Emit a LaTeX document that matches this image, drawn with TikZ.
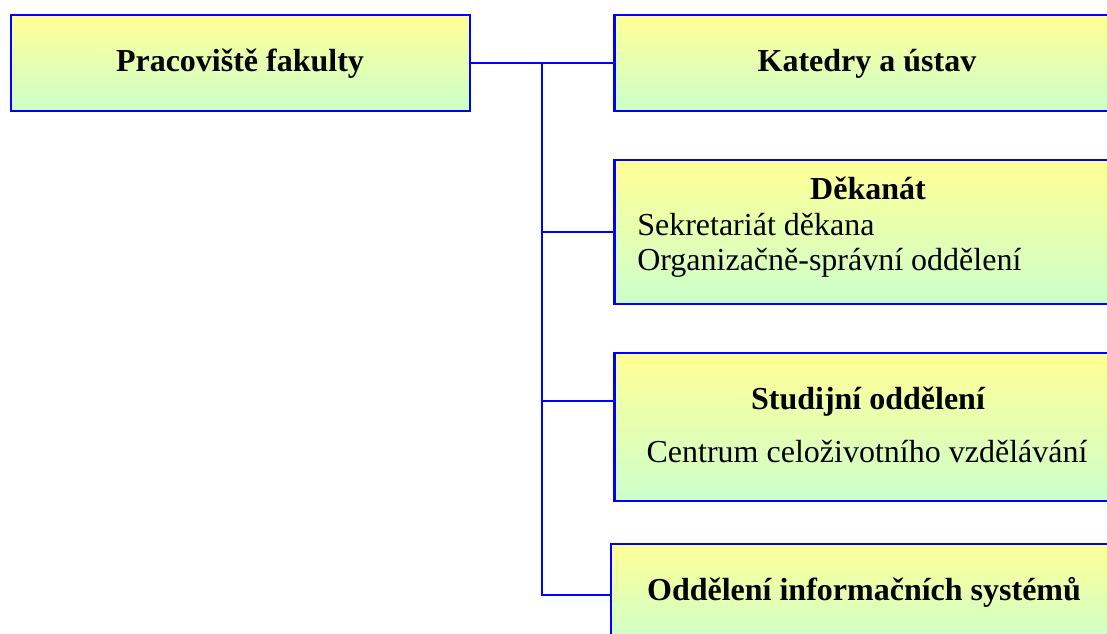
\documentclass[tikz,border=0pt]{standalone}
\usepackage{fontspec}
\setmainfont{Liberation Serif}
\usetikzlibrary{positioning}
\definecolor{orgblue}{RGB}{0,0,255}
\definecolor{orgyellow}{RGB}{255,255,150}
\definecolor{orggreen}{RGB}{204,255,204}
\tikzset{unitbox/.style={draw=orgblue, line width=1.8pt, top color=orgyellow,
  bottom color=orggreen, inner sep=0pt},
 link/.style={draw=orgblue, line width=1.5pt},
 headtext/.style={font=\fontsize{24}{28}\selectfont\bfseries, anchor=base, inner sep=0pt},
 bodytext/.style={font=\fontsize{24}{28}\selectfont, anchor=base, inner sep=0pt},
 }

\begin{document}
\begin{tikzpicture}[x=0.75pt,y=-0.75pt]
    \useasboundingbox (0,0) rectangle (1107,634);
    \clip (0,0) rectangle (1107,634);
    % boxes
    \node[unitbox, minimum width=344.25pt, minimum height=72pt] (prac) at (240.5,63) {};
    \node[unitbox, minimum width=377.25pt, minimum height=72pt] (kat) at (866,63) {};
    \node[unitbox, minimum width=377.25pt, minimum height=108pt] (dek) at (866,232) {};
    \node[unitbox, minimum width=377.25pt, minimum height=111pt] (stud) at (866,427) {};
    \node[unitbox, minimum width=379.5pt, minimum height=76.5pt] (ois) at (864,594.7) {};
    % texts
    \node[headtext] (pracname) at (240,72) {Pracoviště fakulty};
    \node[headtext] (katname) at (867,72) {Katedry a ústav};
    \node[headtext] (dekname) at (868,200) {Děkanát};
    \node[bodytext, anchor=base west] (dekone) at (637,236) {Sekretariát děkana};
    \node[bodytext, anchor=base west] (dektwo) at (637,271) {Organizačně-správní oddělení};
    \node[headtext] (studname) at (868,410) {Studijní oddělení};
    \node[bodytext] (studone) at (867,463) {Centrum celoživotního vzdělávání};
    \node[headtext] (oisname) at (864,600) {Oddělení informačních systémů};
    % connectors
    \coordinate (trunktop) at (541.5,63);
    \coordinate (trunkbot) at (541.5,594.7);
    \coordinate (studjoin) at (541.5,401);
    \draw[link] (prac.east) -- (kat.west);
    \draw[link] (trunktop) -- (trunkbot) -- (ois.west);
    \draw[link] (dek.west) -- (dek.west -| trunktop);
    \draw[link] (studjoin) -- (studjoin -| stud.west);
\end{tikzpicture}
\end{document}
